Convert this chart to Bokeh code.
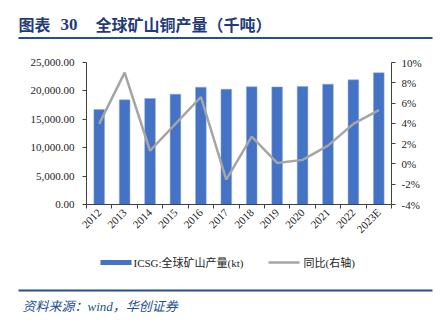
from bokeh.plotting import figure
from bokeh.models import (Range1d, LinearAxis, FixedTicker, NumeralTickFormatter, PrintfTickFormatter,
                          ColumnDataSource)
from bokeh.core.properties import value
from bokeh.embed import file_html
from bokeh.resources import INLINE

years = ["2012", "2013", "2014", "2015", "2016", "2017", "2018", "2019", "2020", "2021", "2022", "2023E"]
production = [16720, 18430, 18660, 19420, 20650, 20300, 20720, 20700, 20770, 21180, 21950, 23190]
yoy = [3.95, 9.0, 1.3, 3.95, 6.6, -1.55, 2.7, 0.1, 0.4, 1.8, 3.95, 5.3]
left_ticks = [0, 5000, 10000, 15000, 20000, 25000]
right_ticks = [-4, -2, 0, 2, 4, 6, 8, 10]
left_lim = (0, 25000)
right_lim = (-4, 10)

TITLE_C = "#1F3C78"
LINE_C = "#24508F"
BAR_C = "#4472C4"
YOY_C = "#A5A5A5"
AX_C = "#404040"
TXT_C = "#222222"
SERIF = "Liberation Serif, Noto Sans CJK SC"
CJK = "Noto Sans CJK SC"

W, H = 445, 322
FL, FR, FT, FB = 86, 391, 62, 204  # plot-area edges in canvas pixels

n = len(years)
x0, x1 = -0.5, n - 0.5


def span(lo, hi, p_lo, p_hi, total):
    """Range that maps lo->pixel p_lo and hi->pixel p_hi in a canvas 0..total."""
    k = (hi - lo) / (p_hi - p_lo)
    return lo - p_lo * k, hi + (total - p_hi) * k


xr = span(x0, x1, FL, FR, W)
yr = span(left_lim[0], left_lim[1], H - FB, H - FT, H)
pr = span(right_lim[0], right_lim[1], H - FB, H - FT, H)

xs = list(range(n))
src = ColumnDataSource(dict(x=xs, prod=production, yoy=yoy))
p = figure(width=W, height=H, x_range=Range1d(*xr), y_range=Range1d(*yr),
           toolbar_location=None, output_backend="svg", min_border=0,
           x_axis_location=None, y_axis_location=None)
p.extra_y_ranges = {"pct": Range1d(*pr), "py": Range1d(H, 0)}
p.extra_x_ranges = {"px": Range1d(0, W)}
p.grid.visible = False
p.outline_line_color = None

p.vbar(x="x", top="prod", width=0.42, source=src, fill_color=BAR_C, line_color="#8FAADC", line_width=0.5)
p.line(x="x", y="yoy", source=src, y_range_name="pct", line_color=YOY_C, line_width=2.5)

# bottom axis
xa = LinearAxis(fixed_location=left_lim[0], bounds=(x0, x1),
                ticker=FixedTicker(ticks=xs, minor_ticks=[i - 0.5 for i in range(n + 1)]))
xa.major_label_overrides = {i: y for i, y in enumerate(years)}
xa.major_label_orientation = 0.785398
xa.major_tick_out = 0
xa.major_tick_in = 0
xa.minor_tick_out = 4
xa.minor_tick_in = 0
xa.minor_tick_line_color = AX_C
xa.axis_line_color = AX_C
xa.major_label_text_font = SERIF
xa.major_label_text_font_size = "11px"
xa.major_label_text_color = TXT_C
xa.major_label_standoff = 2
p.add_layout(xa, "below")

# left axis
ya = LinearAxis(fixed_location=x0, bounds=left_lim, ticker=FixedTicker(ticks=left_ticks),
                formatter=NumeralTickFormatter(format="0,0.00"))
ya.major_tick_out = 4
ya.major_tick_in = 0
ya.minor_tick_line_color = None
ya.axis_line_color = AX_C
ya.major_tick_line_color = AX_C
ya.major_label_text_font = SERIF
ya.major_label_text_font_size = "11px"
ya.major_label_text_color = TXT_C
ya.major_label_standoff = 8
p.add_layout(ya, "left")

# right axis
ra = LinearAxis(y_range_name="pct", fixed_location=x1, bounds=right_lim,
                ticker=FixedTicker(ticks=right_ticks), formatter=PrintfTickFormatter(format="%d%%"))
ra.major_tick_out = 4
ra.major_tick_in = 0
ra.minor_tick_line_color = None
ra.axis_line_color = AX_C
ra.major_tick_line_color = AX_C
ra.major_label_text_font = SERIF
ra.major_label_text_font_size = "11px"
ra.major_label_text_color = TXT_C
ra.major_label_standoff = 6
p.add_layout(ra, "right")

PX = dict(x_range_name="px", y_range_name="py")

# Title and rules
p.text(x=[18], y=[23.5], text=["图表"], text_font=value(CJK), text_font_size="16px",
       text_font_style="bold", text_color=TITLE_C, text_baseline="middle", text_align="left", **PX)
p.text(x=[60], y=[23.5], text=["30"], text_font=value(SERIF), text_font_size="17px",
       text_font_style="bold", text_color=TITLE_C, text_baseline="middle", text_align="left", **PX)
p.text(x=[95], y=[23.5], text=["全球矿山铜产量（千吨）"], text_font=value(CJK), text_font_size="16px",
       text_font_style="bold", text_color=TITLE_C, text_baseline="middle", text_align="left", **PX)
p.segment(x0=[18, 18], y0=[37.5, 290], x1=[432, 432], y1=[37.5, 290], line_color=LINE_C, line_width=2, **PX)

# Legend
p.rect(x=[115.5], y=[262], width=31, height=5, fill_color=BAR_C, line_color=None, **PX)
p.text(x=[133], y=[262], text=["ICSG:全球矿山产量(kt)"], text_font=value(SERIF), text_font_size="11px",
       text_color=TXT_C, text_baseline="middle", text_align="left", **PX)
p.segment(x0=[268], y0=[262], x1=[299], y1=[262], line_color=YOY_C, line_width=2.5, **PX)
p.text(x=[303], y=[262], text=["同比(右轴)"], text_font=value(SERIF), text_font_size="11px",
       text_color=TXT_C, text_baseline="middle", text_align="left", **PX)

# Source
p.text(x=[22], y=[306], text=["资料来源：wind，华创证券"], text_font=value(SERIF), text_font_size="13px",
       text_font_style="italic", text_color=LINE_C, text_baseline="middle", text_align="left", **PX)

open("out.html", "w").write(file_html(p, INLINE))
